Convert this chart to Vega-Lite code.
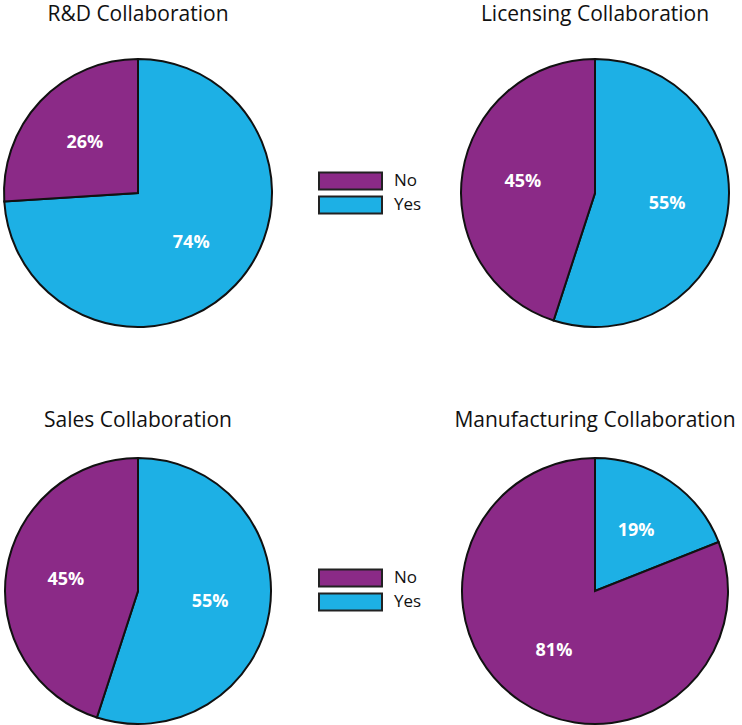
{
  "$schema": "https://vega.github.io/schema/vega-lite/v6.json",
  "padding": {"left": 0, "top": 4, "right": 0, "bottom": 0},
  "autosize": {"type": "pad"},
  "spacing": 79,
  "config": {
    "view": {"stroke": null},
    "font": "Open Sans",
    "title": {"fontSize": 21, "fontWeight": "normal", "color": "#111111", "anchor": "middle", "font": "Open Sans"},
    "legend": {"labelFont": "Open Sans", "labelFontSize": 17, "labelColor": "#111111"}
  },
  "data": {
    "values": [
      {"panel": "R&D", "answer": "Yes", "pct": 0.74},
      {"panel": "R&D", "answer": "No", "pct": 0.26},
      {"panel": "Licensing", "answer": "Yes", "pct": 0.55},
      {"panel": "Licensing", "answer": "No", "pct": 0.45},
      {"panel": "Sales", "answer": "Yes", "pct": 0.55},
      {"panel": "Sales", "answer": "No", "pct": 0.45},
      {"panel": "Manufacturing", "answer": "Yes", "pct": 0.19},
      {"panel": "Manufacturing", "answer": "No", "pct": 0.81}
    ]
  },
  "resolve": {"legend": {"color": "independent"}},
  "vconcat": [
    {
      "hconcat": [
        {
          "width": 268, "height": 268,
          "title": {"text": "R&D Collaboration", "offset": 30},
          "transform": [{"filter": "datum.panel === 'R&D'"}],
          "encoding": {
            "theta": {"field": "pct", "type": "quantitative", "stack": true},
            "color": {"field": "answer", "type": "nominal", "scale": {"domain": ["No", "Yes"], "range": ["#8B2A87", "#1DB0E5"]},
              "legend": {"orient": "none", "legendX": 314, "legendY": 111, "title": null, "symbolType": "M-1,-0.27H1V0.27H-1Z", "symbolSize": 3969, "symbolStrokeColor": "#222222", "symbolStrokeWidth": 2, "symbolOpacity": 1, "labelOffset": 11, "clipHeight": 22, "rowPadding": 2}},
            "order": {"field": "answer", "sort": "descending"}
          },
          "layer": [
            {"mark": {"type": "arc", "outerRadius": 134, "stroke": "#111111", "strokeWidth": 2}},
            {"mark": {"type": "text", "radius": 73, "fill": "white", "fontWeight": "bold", "fontSize": 18}, "encoding": {"text": {"field": "pct", "type": "quantitative", "format": ".0%"}}}
          ]
        },
        {
          "width": 268, "height": 268,
          "title": {"text": "Licensing Collaboration", "offset": 30},
          "transform": [{"filter": "datum.panel === 'Licensing'"}],
          "encoding": {
            "theta": {"field": "pct", "type": "quantitative", "stack": true},
            "color": {"field": "answer", "type": "nominal", "scale": {"domain": ["No", "Yes"], "range": ["#8B2A87", "#1DB0E5"]}, "legend": null},
            "order": {"field": "answer", "sort": "descending"}
          },
          "layer": [
            {"mark": {"type": "arc", "outerRadius": 134, "stroke": "#111111", "strokeWidth": 2}},
            {"mark": {"type": "text", "radius": 73, "fill": "white", "fontWeight": "bold", "fontSize": 18}, "encoding": {"text": {"field": "pct", "type": "quantitative", "format": ".0%"}}}
          ]
        }
      ],
      "spacing": 189,
      "bounds": "flush",
      "resolve": {"legend": {"color": "independent"}}
    },
    {
      "hconcat": [
        {
          "width": 268, "height": 268,
          "title": {"text": "Sales Collaboration", "offset": 23},
          "transform": [{"filter": "datum.panel === 'Sales'"}],
          "encoding": {
            "theta": {"field": "pct", "type": "quantitative", "stack": true},
            "color": {"field": "answer", "type": "nominal", "scale": {"domain": ["No", "Yes"], "range": ["#8B2A87", "#1DB0E5"]},
              "legend": {"orient": "none", "legendX": 314, "legendY": 110, "title": null, "symbolType": "M-1,-0.27H1V0.27H-1Z", "symbolSize": 3969, "symbolStrokeColor": "#222222", "symbolStrokeWidth": 2, "symbolOpacity": 1, "labelOffset": 11, "clipHeight": 22, "rowPadding": 2}},
            "order": {"field": "answer", "sort": "descending"}
          },
          "layer": [
            {"mark": {"type": "arc", "outerRadius": 133, "stroke": "#111111", "strokeWidth": 2}},
            {"mark": {"type": "text", "radius": 73, "fill": "white", "fontWeight": "bold", "fontSize": 18}, "encoding": {"text": {"field": "pct", "type": "quantitative", "format": ".0%"}}}
          ]
        },
        {
          "width": 268, "height": 268,
          "title": {"text": "Manufacturing Collaboration", "offset": 23},
          "transform": [{"filter": "datum.panel === 'Manufacturing'"}],
          "encoding": {
            "theta": {"field": "pct", "type": "quantitative", "stack": true},
            "color": {"field": "answer", "type": "nominal", "scale": {"domain": ["No", "Yes"], "range": ["#8B2A87", "#1DB0E5"]}, "legend": null},
            "order": {"field": "answer", "sort": "descending"}
          },
          "layer": [
            {"mark": {"type": "arc", "outerRadius": 133, "stroke": "#111111", "strokeWidth": 2}},
            {"mark": {"type": "text", "radius": 73, "fill": "white", "fontWeight": "bold", "fontSize": 18}, "encoding": {"text": {"field": "pct", "type": "quantitative", "format": ".0%"}}}
          ]
        }
      ],
      "spacing": 189,
      "bounds": "flush",
      "resolve": {"legend": {"color": "independent"}}
    }
  ]
}
